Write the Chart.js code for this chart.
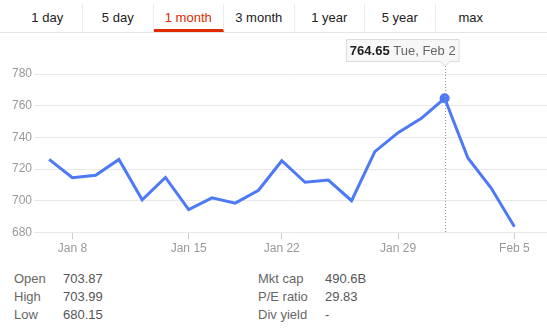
<!DOCTYPE html>
<html lang="en">
<head>
    <meta charset="UTF-8">
    <title>1 month</title>
    <style>
        body {
            margin: 0;
            width: 547px;
            height: 330px;
            position: relative;
            background: #fff;
            font-family: Arial, "Liberation Sans", sans-serif;
            overflow: hidden;
        }
        #tabs {
            position: absolute;
            top: 0;
            left: 0;
            width: 547px;
            height: 32px;
            border-bottom: 1px solid #e5e5e5;
        }
        .tab {
            position: absolute;
            top: 4px;
            width: 70.5px;
            height: 28px;
            line-height: 28px;
            text-align: center;
            font-size: 13px;
            color: #222;
            box-sizing: border-box;
        }
        .tab.sep {
            border-right: 1px solid #ebebeb;
        }
        .tab.active {
            color: #dd2c00;
            border-bottom: 3px solid #dd2c00;
        }
        #wrap {
            position: absolute;
            top: 33px;
            left: 0;
            width: 547px;
            height: 228px;
        }
        .stat {
            position: absolute;
            font-size: 13px;
            color: #666;
            line-height: 18px;
        }
        .stat span {
            position: absolute;
            white-space: nowrap;
        }
        .stat .v { color: #555; }
    </style>
    <script src="https://cdn.jsdelivr.net/npm/chart.js"></script>
</head>
<body>
    <div id="tabs"></div>
    <div id="wrap"><canvas id="chart"></canvas></div>
    <div id="stats"></div>

    <script>
        // 数据
        const dates = ['Jan 7', 'Jan 8', 'Jan 11', 'Jan 12', 'Jan 13', 'Jan 14', 'Jan 15',
                       'Jan 19', 'Jan 20', 'Jan 21', 'Jan 22', 'Jan 25', 'Jan 26', 'Jan 27',
                       'Jan 28', 'Jan 29', 'Feb 1', 'Feb 2', 'Feb 3', 'Feb 4', 'Feb 5'];
        const weekdays = ['Thu', 'Fri', 'Mon', 'Tue', 'Wed', 'Thu', 'Fri',
                          'Tue', 'Wed', 'Thu', 'Fri', 'Mon', 'Tue', 'Wed',
                          'Thu', 'Fri', 'Mon', 'Tue', 'Wed', 'Thu', 'Fri'];
        const prices = [726.07, 714.47, 716.03, 726.07, 700.56, 714.72, 694.45,
                        701.79, 698.45, 706.59, 725.25, 711.67, 713.04, 699.99,
                        730.96, 742.95, 752.00, 764.65, 726.95, 708.01, 683.57];
        const tickIndex = [1, 6, 10, 15, 20];
        const yTicks = [680, 700, 720, 740, 760, 780];
        const hiIndex = 17;
        const tabNames = ['1 day', '5 day', '1 month', '3 month', '1 year', '5 year', 'max'];
        const activeTab = 2;
        const statsLeft = [['Open', '703.87'], ['High', '703.99'], ['Low', '680.15']];
        const statsRight = [['Mkt cap', '490.6B'], ['P/E ratio', '29.83'], ['Div yield', '-']];

        // 顶部标签
        const tabs = document.getElementById('tabs');
        tabNames.forEach((name, i) => {
            const d = document.createElement('div');
            d.className = 'tab' + (i === activeTab ? ' active' : '') + (i < tabNames.length - 1 ? ' sep' : '');
            d.style.left = (12.5 + i * 70.5) + 'px';
            d.textContent = name;
            tabs.appendChild(d);
        });

        // 底部统计
        const stats = document.getElementById('stats');
        function addStats(list, x1, x2) {
            list.forEach((row, i) => {
                const top = 269.5 + i * 18.3;
                const a = document.createElement('div');
                a.className = 'stat';
                a.style.top = top + 'px';
                a.innerHTML = `<span style="left:${x1}px">${row[0]}</span><span class="v" style="left:${x2}px">${row[1]}</span>`;
                stats.appendChild(a);
            });
        }
        addStats(statsLeft, 14, 63);
        addStats(statsRight, 258, 325);

        // 提示框插件
        const hoverBox = {
            id: 'hoverBox',
            afterDatasetsDraw(chart) {
                const ctx = chart.ctx;
                const x = chart.scales.x.getPixelForValue(hiIndex);
                const area = chart.chartArea;
                const boxTop = 6, boxH = 22, tipY = boxTop + boxH + 5;
                ctx.save();
                // 虚线
                ctx.strokeStyle = '#999';
                ctx.lineWidth = 1;
                ctx.setLineDash([1, 2]);
                ctx.beginPath();
                ctx.moveTo(Math.round(x) + 0.5, tipY);
                ctx.lineTo(Math.round(x) + 0.5, area.bottom);
                ctx.stroke();
                ctx.setLineDash([]);

                const valText = prices[hiIndex].toFixed(2);
                const dateText = ' ' + weekdays[hiIndex] + ', ' + dates[hiIndex];
                ctx.font = 'bold 13px Arial, "Liberation Sans", sans-serif';
                const w1 = ctx.measureText(valText).width;
                ctx.font = '13px Arial, "Liberation Sans", sans-serif';
                const w2 = ctx.measureText(dateText).width;
                const boxW = w1 + w2 + 7;
                const right = x + 14;
                const left = right - boxW;

                ctx.fillStyle = '#f7f7f7';
                ctx.strokeStyle = '#dcdcdc';
                ctx.beginPath();
                ctx.moveTo(left + 0.5, boxTop + 0.5);
                ctx.lineTo(right + 0.5, boxTop + 0.5);
                ctx.lineTo(right + 0.5, boxTop + boxH + 0.5);
                ctx.lineTo(x + 5.5, boxTop + boxH + 0.5);
                ctx.lineTo(x + 0.5, tipY);
                ctx.lineTo(x - 4.5, boxTop + boxH + 0.5);
                ctx.lineTo(left + 0.5, boxTop + boxH + 0.5);
                ctx.closePath();
                ctx.fill();
                ctx.stroke();

                ctx.textBaseline = 'middle';
                ctx.textAlign = 'left';
                ctx.font = 'bold 13px Arial, "Liberation Sans", sans-serif';
                ctx.fillStyle = '#222';
                ctx.fillText(valText, left + 4, boxTop + boxH / 2 + 1);
                ctx.font = '13px Arial, "Liberation Sans", sans-serif';
                ctx.fillStyle = '#666';
                ctx.fillText(dateText, left + 4 + w1, boxTop + boxH / 2 + 1);
                ctx.restore();
            }
        };

        const ctx = document.getElementById('chart').getContext('2d');
        new Chart(ctx, {
            type: 'line',
            data: {
                datasets: [{
                    data: prices.map((p, i) => ({ x: i, y: p })),
                    borderColor: '#4d79f6',
                    backgroundColor: '#4d79f6',
                    borderWidth: 3,
                    tension: 0,
                    pointRadius: c => c.dataIndex === hiIndex ? 5 : 0,
                    pointBorderWidth: 0
                }]
            },
            options: {
                responsive: true,
                maintainAspectRatio: false,
                animation: false,
                events: [],
                layout: { padding: { top: 41, left: 0, right: 0, bottom: 0 } },
                plugins: { legend: { display: false }, tooltip: { enabled: false } },
                scales: {
                    x: {
                        type: 'linear',
                        min: -0.65,
                        max: 21.4,
                        afterBuildTicks: axis => { axis.ticks = tickIndex.map(v => ({ value: v })); },
                        afterFit: axis => { axis.height = 28.6; },
                        grid: { drawOnChartArea: false, drawTicks: true, tickLength: 7, color: '#ccc' },
                        border: { display: false },
                        ticks: {
                            autoSkip: false,
                            maxRotation: 0,
                            padding: 2,
                            color: '#999',
                            font: { size: 12, family: 'Arial, "Liberation Sans", sans-serif' },
                            callback: v => dates[v]
                        }
                    },
                    y: {
                        min: 680,
                        max: 780,
                        afterBuildTicks: axis => { axis.ticks = yTicks.map(v => ({ value: v })); },
                        afterFit: axis => { axis.width = 34; },
                        grid: { color: '#e8e8e8', drawTicks: false },
                        border: { display: false },
                        ticks: {
                            padding: 2,
                            color: '#999',
                            font: { size: 12, family: 'Arial, "Liberation Sans", sans-serif' }
                        }
                    }
                }
            },
            plugins: [hoverBox]
        });
    </script>
</body>
</html>
